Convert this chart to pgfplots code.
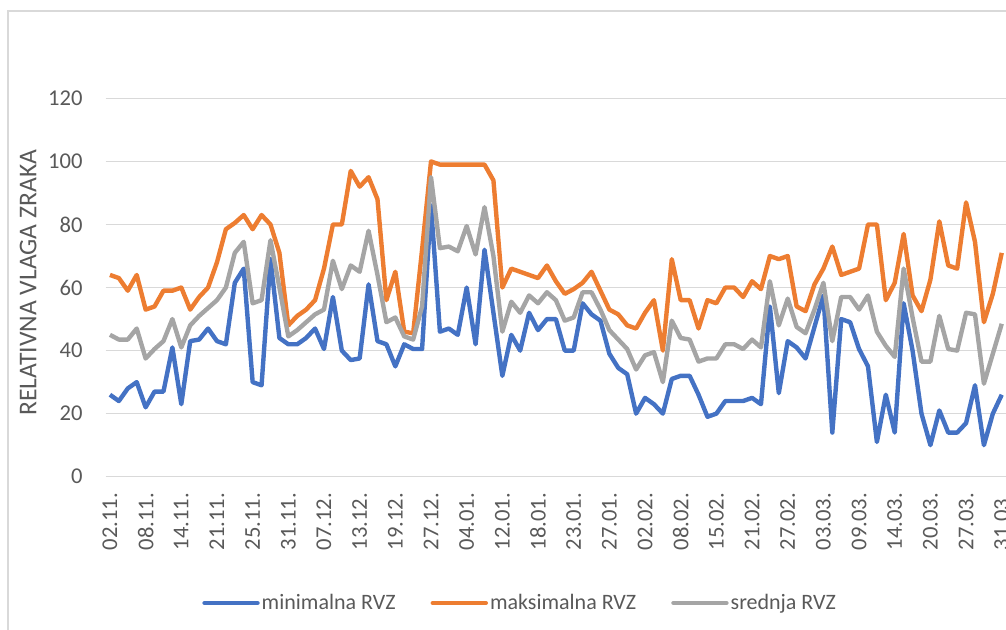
\documentclass[border=0pt]{standalone}
\usepackage{pgfplots}
\usepackage{pgfplotstable}
\pgfplotsset{compat=1.18}
\usepackage{fontspec}
\setmainfont{Carlito}
\definecolor{cblue}{HTML}{4472C4}
\definecolor{corange}{HTML}{ED7D31}
\definecolor{cgray}{HTML}{A5A5A5}
\definecolor{gridgray}{HTML}{D9D9D9}
\definecolor{textgray}{HTML}{595959}
\newcommand\tkf{\fontsize{11.3}{13.5}\selectfont}

\pgfplotstableread{
i min max mean
0 26 64 45
1 24 63 43.5
2 28 59 43.5
3 30 64 47
4 22 53 37.5
5 27 54 40.5
6 27 59 43
7 41 59 50
8 23 60 41
9 43 53 48
10 43.5 57 51
11 47 60 53.5
12 43 68 56
13 42 78.5 60
14 61.5 80.5 71
15 66 83 74.5
16 30 78.5 55
17 29 83 56
18 69 80 75
19 44 71 60
20 42 48 44.5
21 42 51 46.5
22 44 53 49
23 47 56 51.5
24 40.5 66 53
25 57 80 68.5
26 40 80 59.5
27 37 97 67
28 37.5 92 65
29 61 95 78
30 43 88 64
31 42 56 49
32 35 65 50.5
33 42 46 44.5
34 40.5 45.5 43.5
35 40.5 72 54
36 86 100 95
37 46 99 72.5
38 47 99 73
39 45 99 71.5
40 60 99 79.5
41 42 99 70.5
42 72 99 85.5
43 52 94 70
44 32 60 46
45 45 66 55.5
46 40 65 52
47 52 64 57.5
48 46.5 63 55
49 50 67 58.5
50 50 62 56
51 40 58 49.5
52 40 59.5 50.5
53 55 61.5 58.5
54 51.5 65 58.5
55 49.5 59 53
56 39 53 46.5
57 34.5 51.5 43.5
58 32.5 48 40.5
59 20 47 34
60 25 52 38.5
61 23 56 39.5
62 20 40 30
63 31 69 49.5
64 32 56 44
65 32 56 43.5
66 26 47 36.5
67 19 56 37.5
68 20 55 37.5
69 24 60 42
70 24 60 42
71 24 57 40.5
72 25 62 43.5
73 23 59.5 41
74 54 70 62
75 26.5 69 48
76 43 70 56.5
77 41 54 47.5
78 37.5 52.5 45.5
79 47.5 61 53
80 57.5 66 61.5
81 14 73 43
82 50 64 57
83 49 65 57
84 40.5 66 53
85 35 80 57.5
86 11 80 46
87 26 56 41.5
88 14 61.5 38
89 55 77 66
90 40 57.5 50.5
91 20 52.5 36.5
92 10 62.5 36.5
93 21 81 51
94 14 67 40.5
95 14 66 40
96 17 87 52
97 29 74.5 51.5
98 10 49 29.5
99 20 58 39
100 26 71 48.5
}\rvz

\begin{document}
\begin{tikzpicture}
\path[use as bounding box] (0pt,0pt) rectangle (503pt,315pt);
\draw[color=gridgray, line width=0.6pt] (4pt,0pt) -- (4pt,309.5pt) -- (503pt,309.5pt);
\begin{axis}[
  at={(52.75pt,76.65pt)}, anchor=south west,
  scale only axis, width=450.35pt, height=189.15pt,
  xmin=-0.5, xmax=100.5, ymin=0, ymax=120,
  ytick={0,20,...,120},
  xtick={0,4,...,100},
  xticklabels={02.11.,08.11.,14.11.,21.11.,25.11.,31.11.,07.12.,13.12.,19.12.,27.12.,04.01.,12.01.,18.01.,23.01.,27.01.,02.02.,08.02.,15.02.,21.02.,27.02.,03.03.,09.03.,14.03.,20.03.,27.03.,31.03.},
  axis line style={draw=none},
  major tick length=0pt,
  ymajorgrids,
  grid style={color=gridgray, line width=0.7pt},
  /pgf/number format/assume math mode=true,
  tick label style={font=\tkf, text=textgray},
  xticklabel style={rotate=90, anchor=east, inner sep=0pt},
  yticklabel style={inner sep=0pt},
  xticklabel shift=8pt,
  yticklabel shift=11.25pt,
  ylabel={RELATIVNA VLAGA ZRAKA},
  ylabel style={at={(axis description cs:-0.086,0.513)}, anchor=center, font=\fontsize{12.8}{15}\selectfont, text=textgray},
  legend columns=3,
  legend style={draw=none, fill=none, at={(axis description cs:0.1004,-0.3339)}, anchor=west,
    font=\fontsize{11}{13}\selectfont, text=textgray,
    /tikz/every even column/.append style={column sep=16.5pt},
    nodes={inner sep=1pt}},
  legend image code/.code={\draw[#1, line width=2.2pt, line cap=round] (0pt,0pt) -- (26.5pt,0pt);},
  every axis plot/.append style={line width=2.2pt, line join=round, mark=none},
]
\addplot[color=cblue] table[x=i, y=min] {\rvz};
\addlegendentry{minimalna RVZ}
\addplot[color=corange] table[x=i, y=max] {\rvz};
\addlegendentry{maksimalna RVZ}
\addplot[color=cgray] table[x=i, y=mean] {\rvz};
\addlegendentry{srednja RVZ}
\end{axis}
\end{tikzpicture}
\end{document}
